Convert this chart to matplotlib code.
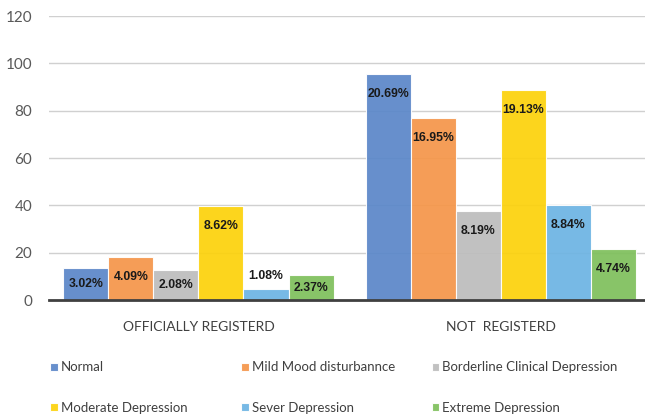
import matplotlib.pyplot as plt
import numpy as np

groups = ["OFFICIALLY REGISTERD", "NOT  REGISTERD"]
series = ["Normal", "Mild Mood disturbannce", "Borderline Clinical Depression",
          "Moderate Depression", "Sever Depression", "Extreme Depression"]
colors = ["#5B87C9", "#F5964A", "#BDBDBD", "#FCD20C", "#6DB4E3", "#7FC05C"]

# bar heights per series: [officially registerd, not registerd]
normal = [13.5, 95.6]
mild = [18.2, 77.0]
borderline = [12.7, 37.6]
moderate = [39.7, 88.8]
sever = [4.6, 40.2]
extreme = [10.5, 21.5]
values = [normal, mild, borderline, moderate, sever, extreme]

pct_normal = ["3.02%", "20.69%"]
pct_mild = ["4.09%", "16.95%"]
pct_borderline = ["2.08%", "8.19%"]
pct_moderate = ["8.62%", "19.13%"]
pct_sever = ["1.08%", "8.84%"]
pct_extreme = ["2.37%", "4.74%"]
pcts = [pct_normal, pct_mild, pct_borderline, pct_moderate, pct_sever, pct_extreme]

LABEL_FONT = ["Liberation Sans Narrow", "Liberation Sans", "DejaVu Sans"]
TEXT_FONT = ["Lato", "DejaVu Sans"]

fig = plt.figure(figsize=(6.45, 4.15), dpi=100)
ax = fig.add_axes([0.076, 0.277, 0.935, 0.684])

x = np.arange(len(groups))
w = 0.149
handles = []
for i, (name, vals, col, lab) in enumerate(zip(series, values, colors, pcts)):
    pos = x + (i - 2.5) * w
    b = ax.bar(pos, vals, width=w, color=col, edgecolor="white", linewidth=0.8,
               alpha=0.93, label=name, zorder=2)
    handles.append(b)
    for p, v, t in zip(pos, vals, lab):
        if v < 6:
            ty = v + 5.5
        else:
            ty = max(v - 8.5, v / 2)
        ax.text(p, ty, t, ha="center", va="center", fontsize=8.8,
                fontweight="bold", color="#1a1a1a", family=LABEL_FONT, zorder=3)

ax.set_ylim(0, 120)
ax.set_xlim(-0.494, 1.5)
ax.set_yticks(np.arange(0, 121, 20))
ax.yaxis.grid(True, color="#d0d0d0", linewidth=1.0, zorder=1)
ax.set_axisbelow(True)
for s in ["left", "right", "top"]:
    ax.spines[s].set_visible(False)
ax.spines["bottom"].set_color("#404040")
ax.spines["bottom"].set_linewidth(2.0)
ax.spines["bottom"].set_zorder(4)

ax.set_xticks(x)
ax.set_xticklabels(groups, family=TEXT_FONT, fontsize=10, color="#404040")
ax.tick_params(axis="x", length=0, pad=15)
ax.tick_params(axis="y", length=0, pad=12, labelsize=11, labelcolor="#595959")
for t in ax.get_yticklabels():
    t.set_family(TEXT_FONT)

# Excel-style legend: three equal-width columns, filled row by row
col_x = [0.070, 0.366, 0.661]
for c in range(3):
    idx = [c, c + 3]
    leg = fig.legend([handles[k] for k in idx], [series[k] for k in idx],
                     loc="upper left", bbox_to_anchor=(col_x[c], 0.142), ncol=1,
                     frameon=False, prop={"family": TEXT_FONT, "size": 9.5},
                     handlelength=0.55, handleheight=0.55, handletextpad=0.25,
                     labelspacing=2.15, labelcolor="#404040", borderaxespad=0)

fig.savefig("out.png", dpi=100)
